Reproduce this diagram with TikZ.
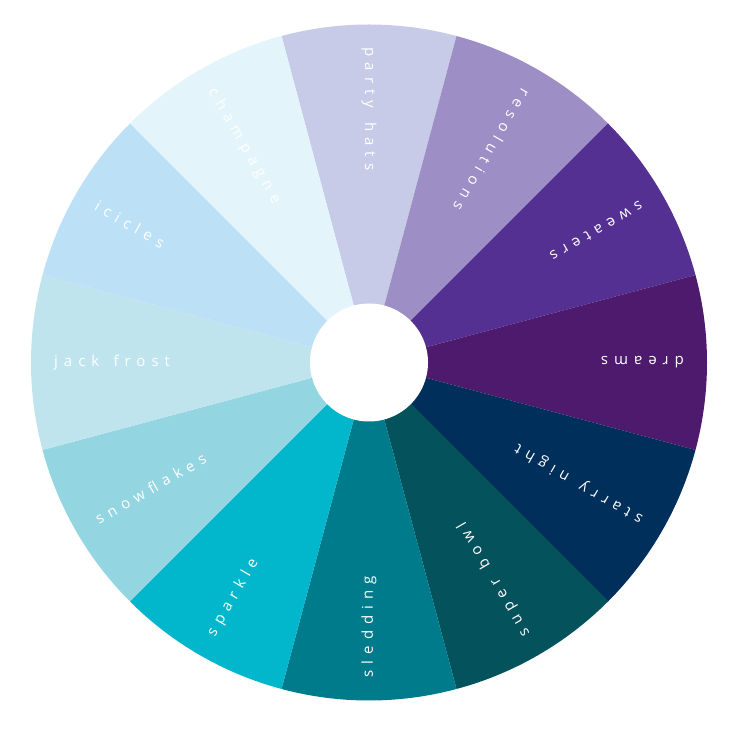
\documentclass[tikz,border=0pt]{standalone}
\usepackage{fontspec}
\setmainfont{Open Sans}[LetterSpace=40]
\usetikzlibrary{calc}
\definecolor{cParty}{HTML}{C7CBE8}
\definecolor{cResol}{HTML}{9D8EC5}
\definecolor{cSweat}{HTML}{553093}
\definecolor{cDream}{HTML}{4E1A6E}
\definecolor{cStarry}{HTML}{012F5C}
\definecolor{cSuper}{HTML}{04525C}
\definecolor{cSled}{HTML}{007B8B}
\definecolor{cSpark}{HTML}{02B6CC}
\definecolor{cSnow}{HTML}{93D5E1}
\definecolor{cJack}{HTML}{BFE4EE}
\definecolor{cIcicle}{HTML}{BCE1F7}
\definecolor{cChamp}{HTML}{E4F4FB}
\newcommand{\wsp}{\hspace{0.95em}}
\tikzset{
  lab/.style={text=white, inner sep=0pt, font=\fontsize{15}{18}\selectfont, anchor=west},
}
\begin{document}
\begin{tikzpicture}[x=1pt,y=1pt]
\useasboundingbox (0,0) rectangle (735,735);
\fill[white] (0,0) rectangle (735,735);
\coordinate (c) at (369,372.5);
\foreach \ang/\col/\txt/\nm in {
  90/cParty/party\wsp hats/party,
  60/cResol/resolutions/resol,
  30/cSweat/sweaters/sweat,
  0/cDream/dreams/dream,
  -30/cStarry/starry\wsp night/starry,
  -60/cSuper/super\wsp bowl/super,
  -90/cSled/sledding/sled,
  -120/cSpark/sparkle/spark,
  -150/cSnow/snowflakes/snow,
  180/cJack/jack\wsp frost/jack,
  150/cIcicle/icicles/icicle,
  120/cChamp/champagne/champ}{
  \pgfmathsetmacro{\aa}{\ang-15}
  \pgfmathsetmacro{\ab}{\ang+15}
  \pgfmathsetmacro{\rot}{\ang+180}
  \fill[\col] (c) -- ($(c)+(\aa:338)$) arc[start angle=\aa, end angle=\ab, radius=338] -- cycle;
  \node[lab, rotate=\rot] (\nm) at ($(c)+(\ang:315)$) {\txt};
}
\fill[white] (c) circle[radius=59];
\end{tikzpicture}
\end{document}
